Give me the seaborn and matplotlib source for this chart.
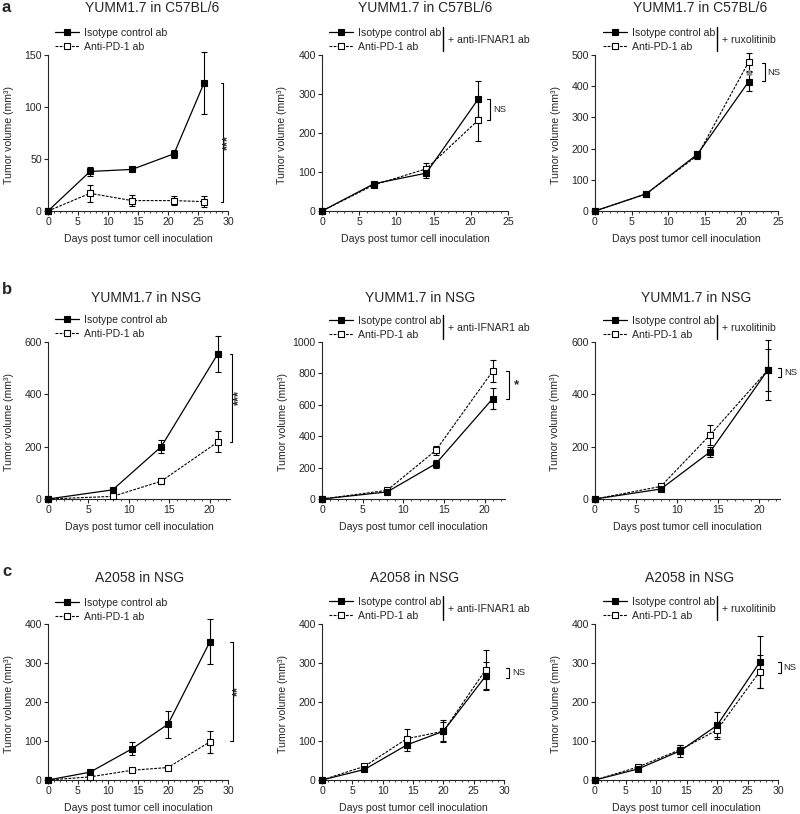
import numpy as np
import pandas as pd
import seaborn as sns
import matplotlib.pyplot as plt
from matplotlib.ticker import MultipleLocator

# ---- values (mean, error bar half-length) ----
days_a1 = [0, 7, 14, 21, 26]
a1_iso = [0, 38, 40, 55, 123]
a1_iso_err = [0, 4, 2, 4, 30]
a1_pd1 = [0, 17, 10, 10, 9]
a1_pd1_err = [0, 8, 5, 4, 5]

days_a23 = [0, 7, 14, 21]
a2_iso = [0, 70, 97, 287]
a2_iso_err = [0, 5, 12, 47]
a2_pd1 = [0, 67, 108, 233]
a2_pd1_err = [0, 5, 15, 53]
a3_iso = [0, 55, 182, 415]
a3_iso_err = [0, 5, 10, 30]
a3_pd1 = [0, 55, 178, 478]
a3_pd1_err = [0, 5, 10, 30]
a3_extra_day = [21]
a3_extra = [445]

days_b = [0, 8, 14, 21]
b1_iso = [0, 35, 200, 555]
b1_iso_err = [0, 4, 25, 68]
b1_pd1 = [0, 10, 68, 218]
b1_pd1_err = [0, 3, 12, 40]
b2_iso = [0, 45, 225, 640]
b2_iso_err = [0, 5, 25, 65]
b2_pd1 = [0, 55, 310, 815]
b2_pd1_err = [0, 5, 30, 68]
b3_iso = [0, 38, 180, 492]
b3_iso_err = [0, 4, 20, 115]
b3_pd1 = [0, 48, 245, 492]
b3_pd1_err = [0, 5, 38, 80]

days_c = [0, 7, 14, 20, 27]
c1_iso = [0, 20, 80, 143, 355]
c1_iso_err = [0, 4, 17, 35, 57]
c1_pd1 = [0, 8, 25, 32, 98]
c1_pd1_err = [0, 2, 3, 3, 28]
c2_iso = [0, 27, 90, 125, 267]
c2_iso_err = [0, 3, 15, 25, 35]
c2_pd1 = [0, 35, 106, 125, 283]
c2_pd1_err = [0, 3, 25, 28, 50]
c3_iso = [0, 28, 75, 140, 302]
c3_iso_err = [0, 3, 15, 35, 67]
c3_pd1 = [0, 33, 78, 128, 278]
c3_pd1_err = [0, 3, 12, 18, 43]

# significance: label, upper value, lower value
sig_a1 = ("***", 123, 9)
sig_a2 = ("NS", 287, 233)
sig_a3 = ("NS", 474, 417)
sig_b1 = ("***", 555, 218)
sig_b2 = ("*", 815, 640)
sig_b3 = ("NS", 500, 468)
sig_c1 = ("**", 355, 100)
sig_c2 = ("NS", 287, 262)
sig_c3 = ("NS", 303, 274)

titles = ["YUMM1.7 in C57BL/6", "YUMM1.7 in NSG", "A2058 in NSG"]
treatments = [None, "+ anti-IFNAR1 ab", "+ ruxolitinib"]
series_names = ["Isotype control ab", "Anti-PD-1 ab"]
panel_letters = ["a", "b", "c"]

panels = [
    [(days_a1, a1_iso, a1_iso_err, a1_pd1, a1_pd1_err, sig_a1),
     (days_a23, a2_iso, a2_iso_err, a2_pd1, a2_pd1_err, sig_a2),
     (days_a23, a3_iso, a3_iso_err, a3_pd1, a3_pd1_err, sig_a3)],
    [(days_b, b1_iso, b1_iso_err, b1_pd1, b1_pd1_err, sig_b1),
     (days_b, b2_iso, b2_iso_err, b2_pd1, b2_pd1_err, sig_b2),
     (days_b, b3_iso, b3_iso_err, b3_pd1, b3_pd1_err, sig_b3)],
    [(days_c, c1_iso, c1_iso_err, c1_pd1, c1_pd1_err, sig_c1),
     (days_c, c2_iso, c2_iso_err, c2_pd1, c2_pd1_err, sig_c2),
     (days_c, c3_iso, c3_iso_err, c3_pd1, c3_pd1_err, sig_c3)],
]

# ---- layout (pixels) ----
W, H = 800, 814
row_top = [55, 342, 624]
row_bot = [211, 499, 780]
col_left = [48, 322, 595]
col_right = [[228, 508, 778], [230, 505, 780], [228, 504, 778]]
xmax = [[30, 25, 25], [22.5, 22.5, 22.5], [30, 30, 30]]
ymax = [[150, 400, 500], [600, 1000, 600], [400, 400, 400]]
ystep = [[50, 100, 100], [200, 200, 200], [100, 100, 100]]
sig_x = [[29.2, 22.6, 23.2], [22.8, 23.0, 22.6], [30.8, 30.8, 30.5]]
sig_tx = [[30.1, 23.0, 23.5], [23.6, 23.6, 23.0], [31.7, 31.3, 30.9]]
leg_x = [55, 329, 603]
leg_y = [[32, 32, 32], [319, 320, 320], [602, 601, 601]]
bar_x = [None, 443, 717]
title_y = [8, 298, 578]
title_cx = [[152, 425, 700], [146, 420, 696], [140, 415, 690]]
letter_y = [8, 290, 571]

sns.set_style("ticks")
plt.rcParams['font.family'] = ['Liberation Sans', 'DejaVu Sans']
plt.rcParams['axes.linewidth'] = 0.8

fig = plt.figure(figsize=(W / 100, H / 100), dpi=100)


def fx(px):
    return px / W


def fy(py):
    return 1 - py / H


fs = 7.6
for r in range(3):
    for c in range(3):
        days, iso, iso_err, pd1, pd1_err, sig = panels[r][c]
        left, right = col_left[c], col_right[r][c]
        ax = fig.add_axes([fx(left), fy(row_bot[r]), (right - left) / W,
                           (row_bot[r] - row_top[r]) / H])

        ax.errorbar(days, iso, yerr=iso_err, fmt='none', ecolor='black',
                    elinewidth=0.8, capsize=2.5, capthick=0.8, zorder=2, clip_on=False)
        ax.errorbar(days, pd1, yerr=pd1_err, fmt='none', ecolor='black',
                    elinewidth=0.8, capsize=2.5, capthick=0.8, zorder=2, clip_on=False)
        sns.lineplot(x=days, y=iso, ax=ax, color='black', linewidth=0.9,
                     marker='s', markersize=4.3, markerfacecolor='black',
                     markeredgecolor='black', markeredgewidth=0.8,
                     label=series_names[0], clip_on=False, zorder=4)
        sns.lineplot(x=days, y=pd1, ax=ax, color='black', linewidth=0.8,
                     linestyle=(0, (2.5, 1.2)), marker='s', markersize=4.3,
                     markerfacecolor='white', markeredgecolor='black',
                     markeredgewidth=0.8, label=series_names[1], clip_on=False, zorder=3)
        if r == 0 and c == 2:
            ax.plot(a3_extra_day, a3_extra, marker='^', markersize=3.5,
                    color='#8a8a8a', linestyle='none', zorder=5)

        ax.set_xlim(0, xmax[r][c])
        ax.set_ylim(0, ymax[r][c])
        ax.xaxis.set_major_locator(MultipleLocator(5))
        ax.xaxis.set_minor_locator(MultipleLocator(1))
        ax.yaxis.set_major_locator(MultipleLocator(ystep[r][c]))
        ax.tick_params(axis='both', which='major', labelsize=fs, length=3,
                       width=0.8, pad=1.5, direction='out')
        ax.tick_params(axis='x', which='minor', length=1.6, width=0.6)
        sns.despine(ax=ax)

        ax.set_xlabel("Days post tumor cell inoculation", fontsize=fs, va='center')
        ax.xaxis.set_label_coords(0.5, -0.18)
        ax.set_ylabel("Tumor volume (mm³)", fontsize=fs, va='center')
        ax.yaxis.set_label_coords(-0.215, 0.49)

        # significance bracket
        lab, y1, y2 = sig
        xb = sig_x[r][c]
        dx = 0.45 * xmax[r][c] / 30
        ax.plot([xb - dx, xb, xb, xb - dx], [y1, y1, y2, y2], color='black',
                linewidth=0.8, clip_on=False)
        if lab in ("***", "**"):
            ax.text(sig_tx[r][c], (y1 + y2) / 2, lab, rotation=90, fontsize=fs + 1.5,
                    ha='center', va='center', fontweight='bold')
        elif lab == "*":
            ax.text(sig_tx[r][c], (y1 + y2) / 2, lab, fontsize=fs + 2,
                    ha='left', va='center', fontweight='bold')
        else:
            ax.text(sig_tx[r][c], (y1 + y2) / 2, lab, fontsize=fs - 0.8,
                    ha='left', va='center')

        # legend above the plot
        ly = leg_y[r][c]
        handles, labels = ax.get_legend_handles_labels()
        ax.legend(handles, labels, loc='center left',
                  bbox_to_anchor=(fx(leg_x[c]), fy(ly + 8)),
                  bbox_transform=fig.transFigure, frameon=False, fontsize=fs,
                  borderpad=0, borderaxespad=0, handlelength=2.3,
                  handletextpad=0.4, labelspacing=0.38)
        if treatments[c]:
            fig.add_artist(plt.Line2D([fx(bar_x[c]), fx(bar_x[c])],
                                      [fy(ly - 5), fy(ly + 19)],
                                      color='black', linewidth=1.0))
            fig.text(fx(bar_x[c] + 5), fy(ly + 8), treatments[c], fontsize=fs,
                     ha='left', va='center')

        fig.text(fx(title_cx[r][c]), fy(title_y[r]), titles[r], fontsize=10,
                 ha='center', va='center')

    fig.text(fx(2), fy(letter_y[r]), panel_letters[r], fontsize=12,
             fontweight='bold', ha='left', va='center')

fig.savefig("out.png", dpi=100)
